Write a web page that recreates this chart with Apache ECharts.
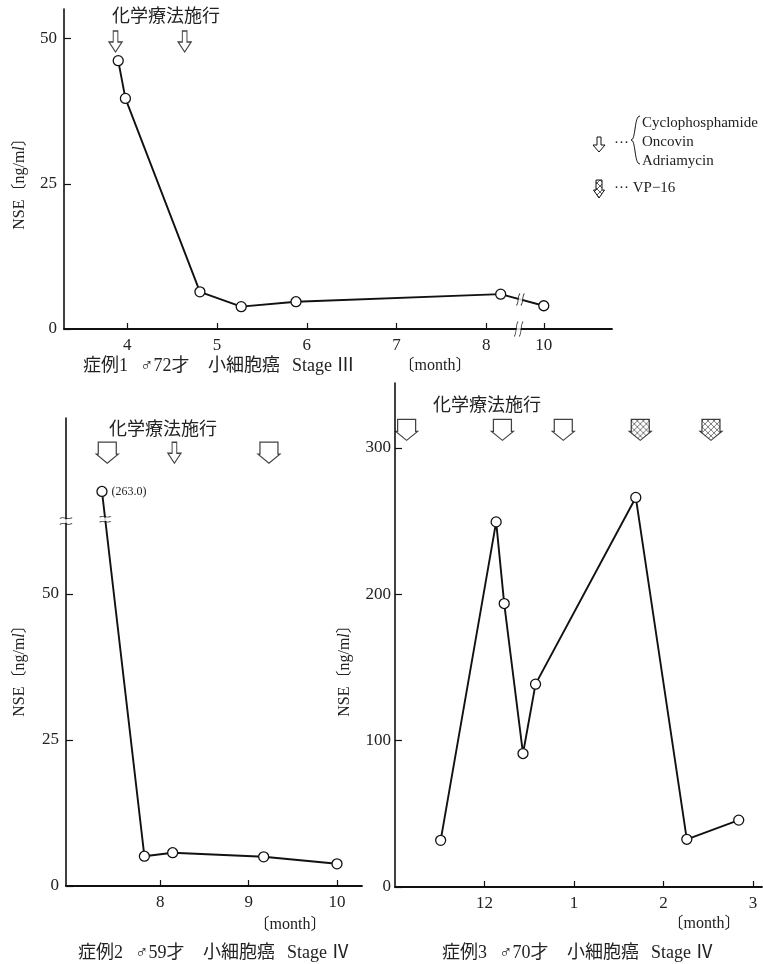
<!DOCTYPE html>
<html><head><meta charset="utf-8">
<script src="https://cdn.jsdelivr.net/npm/echarts@6/dist/echarts.min.js"></script>
<style>html,body{margin:0;padding:0;background:#fff}#c{width:763px;height:964px}</style>
</head><body><div id="c"></div>
<script>
// ================= DATA =================
// Case 1 (months)
const case1Months = [3.90, 3.98, 4.81, 5.27, 5.88, 8.16, 10];
const case1NSE = [46.2, 39.7, 6.4, 3.85, 4.7, 6.0, 4.0];
const case1ChemoMonths = [3.87, 4.64];
const case1ChemoTypes = ['narrow', 'narrow'];
const case1XTicks = [4, 5, 6, 7, 8, 10];
const case1YTicks = [0, 25, 50];
// Case 2
const case2Months = [7.34, 7.82, 8.14, 9.17, 10.0];
const case2NSE = [263.0, 5.1, 5.7, 5.0, 3.8];
const case2ChemoMonths = [7.40, 8.16, 9.23];
const case2ChemoTypes = ['wide', 'narrow', 'wide'];
const case2XTicks = [8, 9, 10];
const case2YTicks = [0, 25, 50];
// Case 3 (11 = Nov, 12 = Dec, 13 = Jan, 14 = Feb, 15 = Mar)
const case3Months = [11.51, 12.13, 12.22, 12.43, 12.57, 13.69, 14.26, 14.84];
const case3NSE = [31.9, 249.5, 193.7, 91.2, 138.6, 266.2, 32.6, 45.7];
const case3ChemoMonths = [11.13, 12.20, 12.88, 13.74, 14.53];
const case3ChemoTypes = ['wide', 'wide', 'wide', 'hatched', 'hatched'];
const case3XTicks = [12, 13, 14, 15];
const case3YTicks = [0, 100, 200, 300];

// captions (split into pieces)
const case1Caption = ['症例1', '♂72才', '小細胞癌', 'Stage Ⅲ'];
const case2Caption = ['症例2', '♂59才', '小細胞癌', 'Stage Ⅳ'];
const case3Caption = ['症例3', '♂70才', '小細胞癌', 'Stage Ⅳ'];

// ================= SCALES (axis breaks) =================
const BRK1 = { from: 8.36, to: 9.72 };           // case 1 x-axis break (months)
const x1 = m => m >= BRK1.to ? m - (BRK1.to - BRK1.from) : m;
const x1inv = d => d > BRK1.from + 1e-9 ? d + (BRK1.to - BRK1.from) : d;
const BRK2 = { at: 62.5, base: 240, k: 0.22 };   // case 2 y-axis break
const y2 = v => v > BRK2.at ? BRK2.at + (v - BRK2.base) * BRK2.k : v;
const id = v => v;

const SERIF = '"Liberation Serif","DejaVu Serif","Noto Sans CJK JP",serif';
const MIX = '"Liberation Serif","Noto Sans CJK JP",serif';
const CJK = '"Noto Sans CJK JP",sans-serif';
const INK = '#111';

function hatchCanvas() {
  const n = 6;
  const c = document.createElement('canvas'); c.width = n; c.height = n;
  const g = c.getContext('2d');
  g.fillStyle = '#fff'; g.fillRect(0, 0, n, n);
  g.strokeStyle = '#333'; g.lineWidth = 0.8;
  g.beginPath();
  g.moveTo(0, 0); g.lineTo(n, n);
  g.moveTo(n, 0); g.lineTo(0, n);
  g.stroke();
  return c;
}
const HATCH_IMG = hatchCanvas();
const HATCH = { image: HATCH_IMG, repeat: 'repeat' };
// symbols are built at size 2 and scaled; compensate the pattern scale
const WIDE_SIZE = [22, 21], NARROW_SIZE = [13, 21];
const HATCH_SYM = { image: HATCH_IMG, repeat: 'repeat', scaleX: 2 / WIDE_SIZE[0], scaleY: 2 / WIDE_SIZE[1] };
const NARROW = 'path://M4.5,0 L9.5,0 L9.5,11 L14,11 L7,21 L0,11 L4.5,11 Z';
const WIDE = 'path://M2,0 L20,0 L20,12 L22,12 L11,21 L0,12 L2,12 Z';
const VBREAK = 'path://M0,14 C3,11 1,3 4,0 M5,14 C8,11 6,3 9,0';
const HBREAK = 'path://M0,2 C3,-1 8,4 12,1 M0,7 C3,4 8,9 12,6';

function xAxis(idx, min, max, ticks, fmt) {
  return {
    type: 'value', gridIndex: idx, min, max,
    axisLine: { show: true, onZero: false, lineStyle: { color: INK, width: 1.8 } },
    axisTick: { show: true, inside: true, length: 6, customValues: ticks, lineStyle: { color: INK, width: 1.2 } },
    axisLabel: { show: true, customValues: ticks, formatter: fmt, margin: 8, color: '#222', fontFamily: SERIF, fontSize: 17 },
    splitLine: { show: false }
  };
}
function yAxis(idx, min, max, ticks, margin) {
  return {
    type: 'value', gridIndex: idx, min, max,
    axisLine: { show: true, onZero: false, lineStyle: { color: INK, width: 1.6 } },
    axisTick: { show: true, inside: true, length: 7, customValues: ticks, lineStyle: { color: INK, width: 1.2 } },
    axisLabel: { show: true, customValues: ticks, formatter: v => String(Math.round(v)), margin: margin, color: '#222', fontFamily: SERIF, fontSize: 17 },
    splitLine: { show: false }
  };
}
function lineSeries(idx, data, extra) {
  return Object.assign({
    type: 'line', xAxisIndex: idx, yAxisIndex: idx, data, z: 3,
    symbol: 'circle', symbolSize: 10, showAllSymbol: true,
    lineStyle: { color: INK, width: 1.9 },
    itemStyle: { color: '#fff', borderColor: INK, borderWidth: 1.3 },
    emphasis: { disabled: true }
  }, extra || {});
}
function arrowSeries(idx, months, types, level, xf) {
  return {
    type: 'scatter', xAxisIndex: idx, yAxisIndex: idx, z: 5, silent: true,
    data: months.map((m, i) => ({
      value: [xf(m), level],
      symbol: types[i] === 'narrow' ? NARROW : WIDE,
      symbolSize: types[i] === 'narrow' ? NARROW_SIZE : WIDE_SIZE,
      itemStyle: { color: types[i] === 'hatched' ? HATCH_SYM : '#fff', borderColor: INK, borderWidth: 1.2 }
    }))
  };
}
function interpY(xs, ys, x) {
  for (let i = 0; i < xs.length - 1; i++) {
    if (x >= xs[i] && x <= xs[i + 1]) { const t = (x - xs[i]) / (xs[i + 1] - xs[i]); return ys[i] + t * (ys[i + 1] - ys[i]); }
  }
  return ys[ys.length - 1];
}
function interpX(xs, ys, y, i) { const t = (ys[i] - y) / (ys[i] - ys[i + 1]); return xs[i] + t * (xs[i + 1] - xs[i]); }

// ---- build data in display coordinates ----
const d1x = case1Months.map(x1), d1y = case1NSE.slice();
const d2x = case2Months.slice(), d2y = case2NSE.map(y2);
const d3x = case3Months.slice(), d3y = case3NSE.slice();

const c1XMin = 3.296, c1XMax = 9.4;
const c2XMin = 6.933, c2XMax = 10.283;
const brk1LineX = BRK1.from + 0.02;
const brk1LineY = interpY(d1x, d1y, brk1LineX);
const brk2LineY = BRK2.at + 0.3;
const brk2LineX = interpX(d2x, d2y, brk2LineY, 0);

function captionEls(pieces, x0, y) {
  const offs = [0, 57, 125, 209];
  return pieces.map((t, i) => ({
    type: 'text', x: x0 + offs[i], y: y,
    style: { text: t, font: '18px ' + MIX, fill: '#222', align: 'left', verticalAlign: 'middle' }
  }));
}

const option = {
  animation: false,
  backgroundColor: '#fff',
  grid: [
    { left: 64, top: 9, width: 548, height: 320, outerBoundsMode: 'none' },
    { left: 66, top: 418, width: 296, height: 468, outerBoundsMode: 'none' },
    { left: 395, top: 383, width: 367, height: 504, outerBoundsMode: 'none' }
  ],
  xAxis: [
    xAxis(0, c1XMin, c1XMax, case1XTicks.map(x1), v => String(Math.round(x1inv(v)))),
    xAxis(1, c2XMin, c2XMax, case2XTicks, v => String(Math.round(v))),
    xAxis(2, 11.0, 15.1, case3XTicks, v => String(((Math.round(v) - 1) % 12) + 1))
  ],
  yAxis: [
    yAxis(0, 0, 55.1, case1YTicks, 7),
    yAxis(1, 0, 80.14, case2YTicks, 7),
    yAxis(2, 0, 344.4, case3YTicks, 4)
  ],
  series: [
    lineSeries(0, d1x.map((x, i) => [x, d1y[i], case1NSE[i]])),
    lineSeries(1, d2x.map((x, i) => {
      const item = { value: [x, d2y[i], case2NSE[i]] };
      if (case2NSE[i] > BRK2.at) item.label = { show: true, position: 'right', distance: 4, fontFamily: SERIF, fontSize: 12, color: '#222', formatter: p => '(' + p.value[2].toFixed(1) + ')' };
      return item;
    })),
    lineSeries(2, d3x.map((x, i) => [x, d3y[i], case3NSE[i]])),
    arrowSeries(0, case1ChemoMonths, case1ChemoTypes, 49.5, x1),
    arrowSeries(1, case2ChemoMonths, case2ChemoTypes, 74.2, id),
    arrowSeries(2, case3ChemoMonths, case3ChemoTypes, 312.4, id),
    // break erasers
    { type: 'scatter', xAxisIndex: 0, yAxisIndex: 0, z: 6, silent: true, symbol: 'rect', symbolSize: [4, 9], symbolRotate: -15,
      itemStyle: { color: '#fff' }, data: [[BRK1.from, 0], [brk1LineX, brk1LineY]] },
    { type: 'scatter', xAxisIndex: 1, yAxisIndex: 1, z: 6, silent: true, symbol: 'rect', symbolSize: [9, 3.5],
      itemStyle: { color: '#fff' }, data: [[c2XMin, BRK2.at], [brk2LineX, brk2LineY]] },
    // break marks
    { type: 'scatter', xAxisIndex: 0, yAxisIndex: 0, z: 7, silent: true, symbol: VBREAK,
      itemStyle: { color: 'rgba(0,0,0,0)', borderColor: INK, borderWidth: 1.1 },
      data: [{ value: [BRK1.from, 0], symbolSize: [9, 15] }, { value: [brk1LineX, brk1LineY], symbolSize: [8, 12] }] },
    { type: 'scatter', xAxisIndex: 1, yAxisIndex: 1, z: 7, silent: true, symbol: HBREAK,
      itemStyle: { color: 'rgba(0,0,0,0)', borderColor: INK, borderWidth: 1.1 },
      data: [{ value: [c2XMin, BRK2.at], symbolSize: [12, 7] }, { value: [brk2LineX, brk2LineY], symbolSize: [11, 6] }] }
  ],
  graphic: { elements: [
    // titles
    { type: 'text', x: 166, y: 15, style: { text: '化学療法施行', font: '18px ' + CJK, fill: '#222', align: 'center', verticalAlign: 'middle' } },
    { type: 'text', x: 163, y: 428, style: { text: '化学療法施行', font: '18px ' + CJK, fill: '#222', align: 'center', verticalAlign: 'middle' } },
    { type: 'text', x: 487, y: 404, style: { text: '化学療法施行', font: '18px ' + CJK, fill: '#222', align: 'center', verticalAlign: 'middle' } },
    // y names
    ...[[20, 180], [20, 667], [345, 667]].map(p => ({
      type: 'text', x: p[0], y: p[1], rotation: Math.PI / 2,
      style: { text: '{a|NSE〔ng/m}{b|l}{a|〕}', align: 'center', verticalAlign: 'middle',
        rich: { a: { fontFamily: MIX, fontSize: 16, fill: '#222' }, b: { fontFamily: SERIF, fontSize: 16, fontStyle: 'italic', fill: '#222' } } }
    })),
    // month labels
    ...[[435, 366], [290, 925], [704, 924]].map(p => ({
      type: 'text', x: p[0], y: p[1], style: { text: '〔month〕', font: '16px ' + MIX, fill: '#222', align: 'center', verticalAlign: 'middle' }
    })),
    // captions
    ...captionEls(case1Caption, 83, 366),
    ...captionEls(case2Caption, 78, 953),
    ...captionEls(case3Caption, 442, 953),
    // legend
    { type: 'polygon', shape: { points: [[597, 137], [601, 137], [601, 145], [605, 145], [599, 152], [593, 145], [597, 145]] }, style: { fill: '#fff', stroke: INK, lineWidth: 1 } },
    { type: 'text', x: 614, y: 143, style: { text: '···', font: '15px ' + SERIF, fill: '#222', align: 'left', verticalAlign: 'middle' } },
    { type: 'bezierCurve', shape: { x1: 640, y1: 116, cpx1: 634, cpy1: 116, cpx2: 636, cpy2: 140, x2: 631, y2: 140 }, style: { stroke: INK, lineWidth: 1, fill: null } },
    { type: 'bezierCurve', shape: { x1: 631, y1: 140, cpx1: 636, cpy1: 140, cpx2: 634, cpy2: 164, x2: 640, y2: 164 }, style: { stroke: INK, lineWidth: 1, fill: null } },
    { type: 'text', x: 642, y: 123, style: { text: 'Cyclophosphamide', font: '15px ' + SERIF, fill: '#222', align: 'left', verticalAlign: 'middle' } },
    { type: 'text', x: 642, y: 142, style: { text: 'Oncovin', font: '15px ' + SERIF, fill: '#222', align: 'left', verticalAlign: 'middle' } },
    { type: 'text', x: 642, y: 161, style: { text: 'Adriamycin', font: '15px ' + SERIF, fill: '#222', align: 'left', verticalAlign: 'middle' } },
    { type: 'polygon', shape: { points: [[596, 180], [602, 180], [602, 190], [604.5, 190], [599, 198], [593.5, 190], [596, 190]] }, style: { fill: HATCH, stroke: INK, lineWidth: 1 } },
    { type: 'text', x: 614, y: 188, style: { text: '··· VP−16', font: '15px ' + SERIF, fill: '#222', align: 'left', verticalAlign: 'middle' } }
  ] }
};

const chart = echarts.init(document.getElementById('c'), null, { renderer: 'canvas' });
chart.setOption(option);
</script>
</body></html>
